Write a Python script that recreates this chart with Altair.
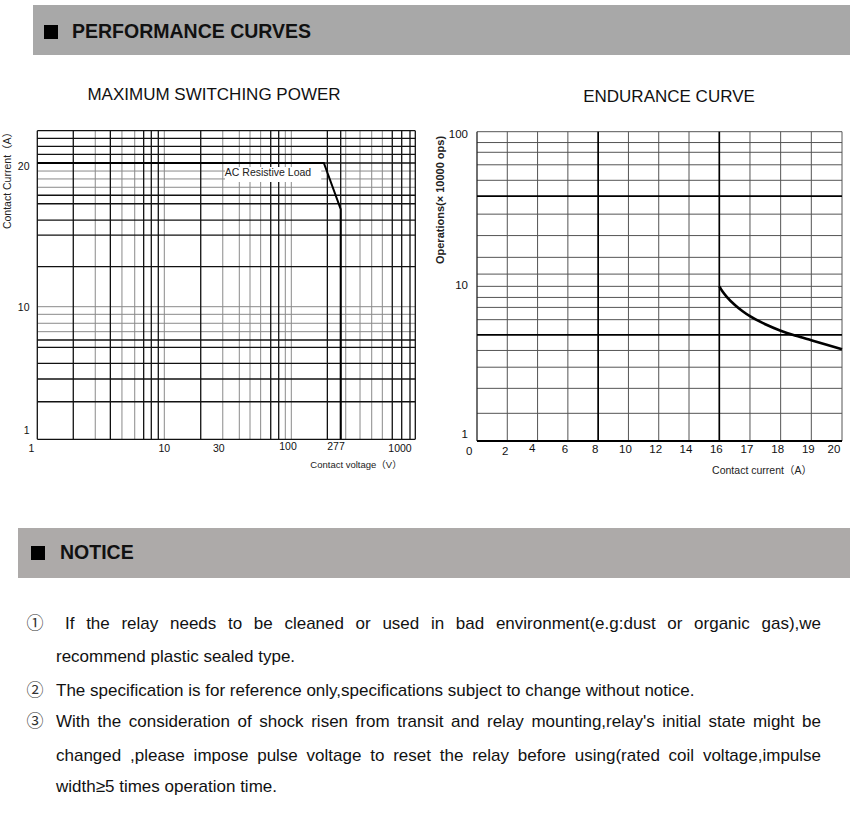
import altair as alt
import pandas as pd

FONT = "Liberation Sans"
CJK = "Liberation Sans, Noto Sans CJK SC"

# ---------------- Maximum switching power (left chart) ----------------
ms_tick_v = [1, 10, 30, 100, 277, 1000]          # contact voltage labels
ms_tick_a = [1, 10, 20]                          # contact current labels
ms_vgrid_major = [1, 1.92, 3.76, 6.88, 7.9, 8.97, 19.7, 72.5, 84.1, 214, 277, 820, 1000, 1183, 1317]
ms_vgrid_minor = [2.86, 4.64, 5.85, 10, 29.7, 40.4, 49.3, 60.1, 95.1, 106.6, 308, 416, 532, 665]
ms_hgrid_major = [1, 1.92, 2.85, 3.74, 4.94, 5.61, 12.13, 14.13, 15.19, 16.43, 17.12, 20, 20.85, 21.67, 22.53, 23.39]
ms_hgrid_minor = [6.48, 7.50, 8.76, 10, 17.79, 18.52, 19.24]
ms_curve_v = [1, 200, 277, 277]
ms_curve_a = [20, 20, 16, 1]
ms_note = "AC Resistive Load"
ms_xtitle = "Contact voltage\uff08V\uff09"
ms_ytitle = "Contact Current\uff08A\uff09"

# ---------------- Endurance curve (right chart) ----------------
en_tick_x = [0, 2, 4, 6, 8, 10, 12, 14, 16, 17, 18, 19, 20]
en_tick_y = [1, 10, 100]
en_vgrid_minor = [2, 4, 6, 10, 12, 14, 17, 18, 19, 20]
en_vgrid_major = [8, 16]
en_hgrid_minor = [1.51, 2.19, 3.0, 3.85, 6.09, 7.31, 8.48, 10, 12.0, 15.4, 21.3, 29.3, 48.5, 61.1, 73.6, 85.1, 100]
en_hgrid_major = [4.85, 38.3]
en_curve_x = [16, 16.1, 16.25, 16.5, 16.75, 17, 17.5, 18, 18.5, 19, 19.5, 20]
en_curve_y = [10, 9.29, 8.53, 7.61, 6.93, 6.41, 5.69, 5.17, 4.79, 4.48, 4.19, 3.92]
en_xtitle = "Contact current\uff08A\uff09"
en_ytitle = "Operations(\u00d7 10000 ops)"

# ---------------- Notice text ----------------
notice_marks = ["\u2460", "\u2461", "\u2462"]
notice_lines = [
    ("If the relay needs to be cleaned or used in bad environment(e.g:dust or organic gas),we", True),
    ("recommend plastic sealed type.", False),
    ("The specification is for reference only,specifications subject to change without notice.", False),
    ("With the consideration of shock risen from transit and relay mounting,relay's initial state might be", True),
    ("changed ,please impose pulse voltage to reset the relay before using(rated coil voltage,impulse", True),
    ("width\u22655 times operation time.", False),
]

# ---------------- scales ----------------
ms_xs = alt.Scale(type="log", domain=[1, 10, 100, 277, 1000, 1317],
                  range=[37.3, 164.3, 288, 340.7, 401.7, 415.3], nice=False)
ms_ys = alt.Scale(type="log", domain=[1, 10, 20, 23.39],
                  range=[439.3, 306.7, 163, 130.7], nice=False)
en_xs = alt.Scale(type="linear", domain=[0, 16, 20], range=[477, 719.3, 842], nice=False, zero=False)
en_ys = alt.Scale(type="log", domain=[1, 100], range=[441, 131.7], nice=False)


def vrules(vals, lo, hi, color, width, xs, ys):
    df = pd.DataFrame({"v": vals, "lo": lo, "hi": hi})
    return alt.Chart(df).mark_rule(color=color, strokeWidth=width).encode(
        x=alt.X("v:Q", scale=xs, axis=None),
        y=alt.Y("lo:Q", scale=ys, axis=None),
        y2="hi:Q")


def hrules(vals, lo, hi, color, width, xs, ys):
    df = pd.DataFrame({"v": vals, "lo": lo, "hi": hi})
    return alt.Chart(df).mark_rule(color=color, strokeWidth=width).encode(
        y=alt.Y("v:Q", scale=ys, axis=None),
        x=alt.X("lo:Q", scale=xs, axis=None),
        x2="hi:Q")


def xlabels(vals, scale, ypix, size, nudges):
    """tick labels of a horizontal axis, placed through the x scale"""
    out = []
    for v in vals:
        dx, dy = nudges.get(v, nudges.get("default", (0, 0)))
        df = pd.DataFrame({"v": [v], "t": [str(v)]})
        out.append(alt.Chart(df).mark_text(
            font=FONT, fontSize=size, color="#111", align="center", baseline="middle",
            dx=dx, dy=dy).encode(
            x=alt.X("v:Q", scale=scale, axis=None), y=alt.value(ypix), text="t:N"))
    return out


def ylabels(vals, scale, xpix, size, nudges):
    """tick labels of a vertical axis, placed through the y scale"""
    out = []
    for v in vals:
        dx, dy = nudges.get(v, (0, 0))
        df = pd.DataFrame({"v": [v], "t": [str(v)]})
        out.append(alt.Chart(df).mark_text(
            font=FONT, fontSize=size, color="#111", align="right", baseline="middle",
            dx=dx, dy=dy).encode(
            y=alt.Y("v:Q", scale=scale, axis=None), x=alt.value(xpix), text="t:N"))
    return out


one = pd.DataFrame({"k": [0]})


def band(x1, x2, y1, y2, color):
    return alt.Chart(one).mark_rect(color=color).encode(
        x=alt.value(x1), x2=alt.value(x2), y=alt.value(y1), y2=alt.value(y2))


def label(text, x, y, size, weight="normal", align="left", font=FONT, color="#111", angle=0):
    return alt.Chart(pd.DataFrame({"t": [text]})).mark_text(
        x=x, y=y, fontSize=size, fontWeight=weight, align=align, baseline="middle",
        font=font, color=color, angle=angle).encode(text="t:N")


# ---------------- left chart ----------------
ms_top = ms_hgrid_major[-1]
ms_right = ms_vgrid_major[-1]
ms_layers = [
    vrules(ms_vgrid_minor, 1, ms_top, "#8a8a8a", 1, ms_xs, ms_ys),
    hrules(ms_hgrid_minor, 1, ms_right, "#8a8a8a", 1, ms_xs, ms_ys),
    vrules(ms_vgrid_major, 1, ms_top, "#111", 1.3, ms_xs, ms_ys),
    hrules(ms_hgrid_major, 1, ms_right, "#111", 1.3, ms_xs, ms_ys),
]
box_df = pd.DataFrame({"x1": [30.96], "x2": [190], "y1": [18.25], "y2": [19.62]})
ms_layers.append(alt.Chart(box_df).mark_rect(color="white").encode(
    x=alt.X("x1:Q", scale=ms_xs, axis=None), x2="x2:Q",
    y=alt.Y("y1:Q", scale=ms_ys, axis=None), y2="y2:Q"))
note_df = pd.DataFrame({"x": [68.9], "y": [19.03], "t": [ms_note]})
ms_layers.append(alt.Chart(note_df).mark_text(font=FONT, fontSize=10.5, color="#222",
                                                align="center", baseline="middle").encode(
    x=alt.X("x:Q", scale=ms_xs, axis=None), y=alt.Y("y:Q", scale=ms_ys, axis=None), text="t:N"))
curve_df = pd.DataFrame({"v": ms_curve_v, "a": ms_curve_a, "i": list(range(len(ms_curve_v)))})
ms_layers.append(alt.Chart(curve_df).mark_line(color="#000", strokeWidth=2).encode(
    x=alt.X("v:Q", scale=ms_xs, axis=None),
    y=alt.Y("a:Q", scale=ms_ys, axis=None),
    order=alt.Order("i:Q")))
ms_layers += xlabels(ms_tick_v, ms_xs, 449, 10.5,
                     {1: (-6, 0), 30: (-4.6, 0), 100: (0, -2.5), 277: (-4.7, -2.5), 1000: (-1.7, 0)})
ms_layers += ylabels(ms_tick_a, ms_ys, 29.5, 10.5, {1: (0, -8.6), 10: (0, 1.3), 20: (0, 4)})
ms_group = alt.layer(*ms_layers)

# ---------------- right chart ----------------
en_layers = [
    vrules(en_vgrid_minor, 1, 100, "#555", 1, en_xs, en_ys),
    hrules(en_hgrid_minor, 0, 20, "#555", 1, en_xs, en_ys),
    vrules([0], 1, 100, "#222", 1.3, en_xs, en_ys),
    vrules(en_vgrid_major, 1, 100, "#000", 1.7, en_xs, en_ys),
    hrules(en_hgrid_major, 0, 20, "#000", 1.7, en_xs, en_ys),
    hrules([1], 0, 20, "#000", 2, en_xs, en_ys),
]
en_df = pd.DataFrame({"c": en_curve_x, "o": en_curve_y})
en_layers.append(alt.Chart(en_df).mark_line(color="#000", strokeWidth=2.6, interpolate="monotone").encode(
    x=alt.X("c:Q", scale=en_xs, axis=None),
    y=alt.Y("o:Q", scale=en_ys, axis=None)))
en_layers += xlabels(en_tick_x, en_xs, 450, 11.5,
                     {"default": (-3, 0), 0: (-7.7, 1.7), 2: (-2, 1.5), 4: (-5.3, -1.5), 20: (-8, 0)})
en_layers += ylabels(en_tick_y, en_ys, 468, 11.5, {1: (0, -6), 100: (0, 3.3)})
en_group = alt.layer(*en_layers)

# ---------------- headers and free text ----------------
headers = [
    band(33, 850, 5, 55, "#a8a8a8"),
    band(44, 58, 25, 39, "#000"),
    label("PERFORMANCE CURVES", 72, 32, 19.5, "bold"),
    label("MAXIMUM SWITCHING POWER", 214, 95, 17, align="center"),
    label("ENDURANCE CURVE", 669, 97, 17, align="center"),
    label(ms_xtitle, 356, 465, 9.5, align="center", font=CJK, color="#222"),
    label(ms_ytitle, 8, 178, 10.5, align="center", font=CJK, color="#222", angle=270),
    label(en_xtitle, 762, 471, 10.5, align="center", font=CJK, color="#222"),
    label(en_ytitle, 441, 200, 11, "bold", align="center", font=CJK, color="#222", angle=270),
    band(18, 850, 528, 578, "#adaaa9"),
    band(31, 45, 546, 560, "#000"),
    label("NOTICE", 60, 553, 19.5, "bold"),
]

# ---------------- notice body (justified like the reference) ----------------
AW = {' ': 278, "'": 191, '(': 333, ')': 333, ',': 278, '.': 278, ':': 278, '\u2265': 549,
      'I': 278, 'T': 611, 'W': 944,
      'a': 556, 'b': 556, 'c': 500, 'd': 556, 'e': 556, 'f': 278, 'g': 556, 'h': 556, 'i': 222,
      'j': 222, 'k': 500, 'l': 222, 'm': 833, 'n': 556, 'o': 556, 'p': 556, 'q': 556, 'r': 333,
      's': 500, 't': 278, 'u': 556, 'v': 500, 'w': 722, 'x': 500, 'y': 500, 'z': 500}
FS = 17


def tw(s):
    return sum(AW.get(ch, 556) for ch in s) * FS / 1000.0


line_y = [624, 657, 691, 722, 756, 787]
line_x0 = [65, 56, 56, 56, 56, 56]
right_edge = 821
rows = []
for (txt, just), y, x0 in zip(notice_lines, line_y, line_x0):
    if just:
        words = txt.split(" ")
        total = sum(tw(w) for w in words)
        gap = (right_edge - x0 - total) / (len(words) - 1)
        x = x0
        for w in words:
            rows.append({"t": w, "px": x, "py": y})
            x += tw(w) + gap
    else:
        rows.append({"t": txt, "px": x0, "py": y})
body = alt.Chart(pd.DataFrame(rows)).mark_text(
    font=FONT, fontSize=FS, color="#111", align="left", baseline="middle").encode(
    x=alt.X("px:Q", scale=None, axis=None), y=alt.Y("py:Q", scale=None, axis=None), text="t:N")

circ_df = pd.DataFrame({"t": notice_marks, "px": [35, 35, 35], "py": [624, 691, 722]})
circles = alt.Chart(circ_df).mark_text(
    font="Noto Sans CJK SC", fontSize=17, color="#333", align="center", baseline="middle").encode(
    x=alt.X("px:Q", scale=None, axis=None), y=alt.Y("py:Q", scale=None, axis=None), text="t:N")

chart = alt.layer(*headers, ms_group, en_group, body, circles).resolve_scale(
    x="independent", y="independent").properties(
    width=850, height=834, padding=0, background="white",
    autosize=alt.AutoSizeParams(type="none")).configure_view(stroke=None)

chart.save("out.html", embed_options={"renderer": "svg", "actions": False})
